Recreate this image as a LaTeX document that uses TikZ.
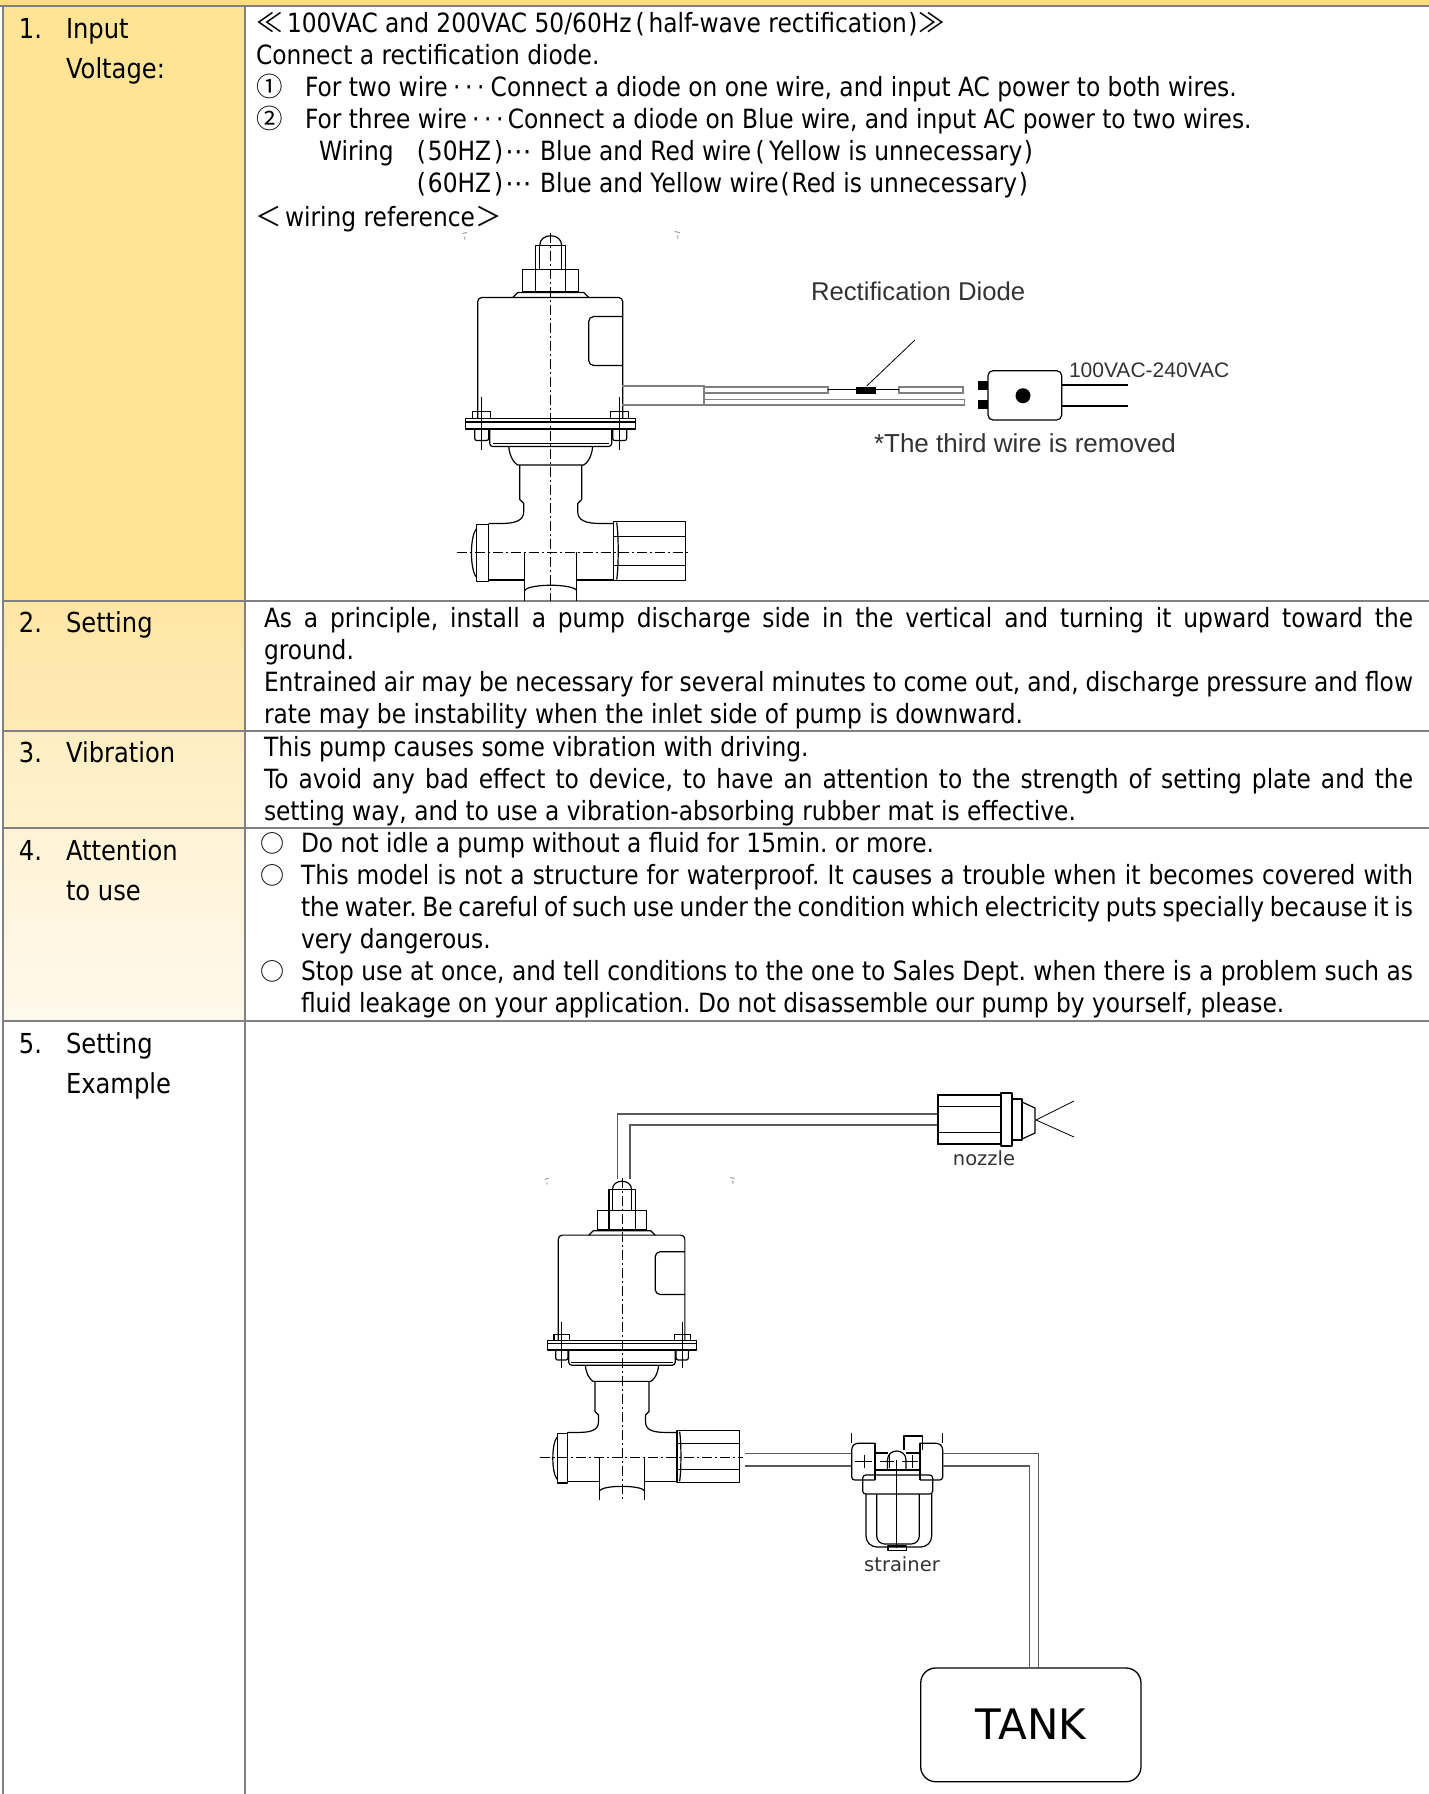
\documentclass[tikz,border=0pt]{standalone}
\usepackage{fontspec}
\setmainfont{DejaVu Sans}[FakeStretch=0.88]
\newfontfamily\dvs{DejaVu Sans}
\newfontfamily\lib{Liberation Sans}
\newfontfamily\cjk{Noto Sans CJK JP}
\definecolor{topband}{HTML}{FFDE80}
\definecolor{gridgray}{HTML}{808080}
\definecolor{rowA}{HTML}{FFE496}
\definecolor{rowBt}{HTML}{FFE6A6}
\definecolor{rowBb}{HTML}{FFEAB4}
\definecolor{rowCt}{HTML}{FFEEC2}
\definecolor{rowCb}{HTML}{FFF1CD}
\definecolor{rowDt}{HTML}{FFF3D6}
\definecolor{rowDb}{HTML}{FFF9EC}
\definecolor{pipegray}{HTML}{5A5A5A}
\definecolor{labelgray}{HTML}{333333}
\newcommand\mydots{\makebox[12pt]{·}\makebox[12pt]{·}\makebox[12pt]{·}}
\tikzset{
  txt/.style={anchor=base west, inner sep=0pt, outer sep=0pt, font=\fontsize{26.5}{32}\selectfont},
  lefttxt/.style={anchor=base west, inner sep=0pt, outer sep=0pt, font=\fontsize{27.5}{40}\selectfont},
  cjktxt/.style={anchor=base west, inner sep=0pt, outer sep=0pt, font=\cjk\fontsize{24}{30}\selectfont},
  libtxt/.style={anchor=base west, inner sep=0pt, outer sep=0pt, text=labelgray},
  gridline/.style={draw=gridgray, line width=2pt},
  pl/.style={line width=1.2pt, black, line join=round},
  thinl/.style={line width=0.8pt, black},
  cl/.style={line width=0.9pt, black, dash pattern=on 10pt off 3pt on 2pt off 3pt},
  pipe/.style={line width=1.3pt, pipegray},
  wire/.style={line width=1.1pt, gray},
  pics/pump/.style={code={
    \draw[cl] (0,-3) -- (0,365);
    \draw[cl] (-94,316.5) -- (139,316.5);
    % dome and knob
    \draw[pl] (-11,10) .. controls (-11,-3) and (11,-3) .. (11,10);
    \draw[pl] (-15,10) rectangle (15,34);
    \draw[pl] (-11,10) -- (-11,34) (11,10) -- (11,34);
    % nut
    \draw[pl] (-28,34) rectangle (28,56);
    \draw[pl] (-15,34) -- (-15,56) (15,34) -- (15,56);
    % washer
    \draw[pl] (-38,62) -- (-33,57) -- (33,57) -- (38,62);
    % coil
    \draw[pl, rounded corners=4] (-73,183) -- (-73,62) -- (72,62) -- (72,183);
    \draw[pl, rounded corners=5] (72,81) -- (38,81) -- (38,130) -- (72,130);
    % bolts
    \draw[thinl] (-69,161) -- (-69,214) (69,161) -- (69,214);
    \draw[pl] (-78,176) rectangle (-60,183);
    \draw[pl] (60,176) rectangle (78,183);
    % flange
    \draw[pl] (-85,183) rectangle (85,193.5);
    \draw[pl] (-85,186.5) -- (85,186.5);
    \draw[pl, rounded corners=2] (-76,193.5) -- (-76,205) -- (-62,205) -- (-62,193.5);
    \draw[pl, rounded corners=2] (62,193.5) -- (62,205) -- (76,205) -- (76,193.5);
    % lower body
    \draw[pl, rounded corners=3] (-61,193.5) -- (-61,211) -- (61,211) -- (61,193.5);
    \draw[pl] (-58,208) -- (58,208);
    % taper
    \draw[pl] (-42,211) .. controls (-41,222) and (-36,228) .. (-33,229.5) -- (33,229.5) .. controls (36,228) and (41,222) .. (42,211);
    % stem
    \draw[pl] (-31,229.5) -- (-31,264) -- (-27,268) -- (-27,276) .. controls (-27,285) and (-35,288) .. (-50,288) -- (-62,288);
    \draw[pl] (31,229.5) -- (31,264) -- (27,268) -- (27,276) .. controls (27,285) and (35,288) .. (50,288) -- (63,288);
    % horizontal body
    \draw[pl] (-62,288) -- (-62,345);
    \draw[pl] (-62,344.5) -- (-26,344.5) (26,344.5) -- (63,344.5);
    % left cap
    \draw[pl] (-74,289) rectangle (-62,346);
    \draw[pl] (-74,293) .. controls (-81,300) and (-81,335) .. (-74,342);
    % right nut
    \draw[pl] (63,286) rectangle (135,345);
    \draw[pl] (63,301) -- (135,301) (63,330) -- (135,330);
    \draw[pl] (66,287) .. controls (68,300) and (68,331) .. (66,344);
    % bottom port
    \draw[pl] (-26,316.5) -- (-26,365) (26,316.5) -- (26,365);
    \draw[pl] (-26,355) .. controls (-22,348) and (22,348) .. (26,355);
    % stray marks
    \draw[thinl, gray] (-88,-2) -- (-84,-3) (-86,1) -- (-86,4);
    \draw[thinl, gray] (124,-4) -- (129,-3) (127,0) -- (127,3);
  }}
}
\begin{document}
\frenchspacing
\begin{tikzpicture}[x=1pt,y=-1pt]
\useasboundingbox (0,0) rectangle (1429,1794);
\fill[white] (0,0) rectangle (1429,1794);
% ---------- table backgrounds ----------
\fill[topband] (0,0) rectangle (1429,5);
\fill[rowA] (3,6) rectangle (245,601);
\shade[top color=rowBt, bottom color=rowBb] (3,601) rectangle (245,731);
\shade[top color=rowCt, bottom color=rowCb] (3,731) rectangle (245,828);
\shade[top color=rowDt, bottom color=rowDb] (3,828) rectangle (245,1021);
% ---------- grid ----------
\draw[gridline] (0,5.8) -- (1429,5.8);
\draw[gridline] (3,5.8) -- (3,1794);
\draw[gridline] (245,5.8) -- (245,1794);
\draw[gridline] (3,601) -- (1429,601);
\draw[gridline] (3,731) -- (1429,731);
\draw[gridline] (3,828) -- (1429,828);
\draw[gridline] (3,1021) -- (1429,1021);
% ---------- left column ----------
\node[lefttxt] (n1) at (19,38) {1.};
\node[lefttxt] (h1a) at (66,38) {Input};
\node[lefttxt] (h1b) at (66,78) {Voltage:};
\node[lefttxt] (n2) at (19,632) {2.};
\node[lefttxt] (h2) at (66,632) {Setting};
\node[lefttxt] (n3) at (19,762) {3.};
\node[lefttxt] (h3) at (66,762) {Vibration};
\node[lefttxt] (n4) at (19,860) {4.};
\node[lefttxt] (h4a) at (66,860) {Attention};
\node[lefttxt] (h4b) at (66,900) {to use};
\node[lefttxt] (n5) at (19,1053) {5.};
\node[lefttxt] (h5a) at (66,1053) {Setting};
\node[lefttxt] (h5b) at (66,1093) {Example};
% ---------- row 1 text ----------
\node[txt] (l1) at (256,32.5) {\makebox[31pt][l]{\cjk ≪}100VAC and 200VAC 50/60Hz\makebox[17pt]{(}half-wave rectification\makebox[12pt]{)}\makebox[26.5pt][l]{\cjk ≫}};
\node[txt] (l2) at (256,64.5) {Connect a rectification diode.};
\node[txt] (l3) at (256,96.5) {\makebox[49pt][l]{\cjk ①}For two wire\hspace{3pt}\mydots\hspace{4pt}Connect a diode on one wire, and input AC power to both wires.};
\node[txt] (l4) at (256,128.5) {\makebox[49pt][l]{\cjk ②}For three wire\hspace{3pt}\mydots\hspace{2pt}Connect a diode on Blue wire, and input AC power to two wires.};
\node[txt] (l5a) at (319,160.5) {Wiring};
\node[txt] (l5b) at (398,160.5) {\makebox[30pt][r]{(\hspace{2pt}}50HZ\makebox[13pt][r]{)\hspace{1pt}}\makebox[36pt][l]{\hspace{1pt}\dvs ⋯}Blue and Red wire\makebox[18pt]{(}Yellow is unnecessary\makebox[12pt]{)}};
\node[txt] (l6) at (398,192.5) {\makebox[30pt][r]{(\hspace{2pt}}60HZ\makebox[13pt][r]{)\hspace{1pt}}\makebox[36pt][l]{\hspace{1pt}\dvs ⋯}Blue and Yellow wire\makebox[13pt]{(}Red is unnecessary\makebox[12pt]{)}};
\node[txt] (l7) at (255,226) {\makebox[30pt][l]{\cjk ＜}wiring reference\makebox[26.5pt][l]{\hspace{1pt}\cjk ＞}};
% ---------- row 1 drawing ----------
\pic (pumpA) at (550.7,235.5) {pump};
\coordinate (shA) at (622,386);
\coordinate (shB) at (622,405);
\draw[wire] (shA) -- (704,386) -- (704,405) -- (shB);
\draw[wire] (704,387) -- (828,387) -- (828,393) -- (704,393);
\draw[wire] (704,399.5) -- (964.6,399.5) -- (964.6,405) -- (704,405);
\draw[wire] (899,387) -- (963,387) -- (963,393) -- (899,393) -- cycle;
\node[draw=black, fill=black, minimum width=19pt, minimum height=6pt, inner sep=0pt] (diode) at (865.5,389.7) {};
\draw[thinl] (828,389.7) -- (diode.west) (diode.east) -- (899,389.7);
\coordinate (leadtop) at (915,340);
\draw[thinl] (866.7,386) -- (leadtop);
\node[draw=black, line width=1.2pt, rounded corners=5pt, minimum width=73.7pt, minimum height=49.3pt, inner sep=0pt] (plug) at (1024.85,395.35) {};
\fill[black] (978,381) rectangle (988,390);
\fill[black] (978,400) rectangle (988,409);
\fill[black] (1023,395.7) circle (7.5);
\draw[thinl, line width=1.1pt] (1061.7,385) -- (1128,385) (1061.7,406) -- (1128,406);
\node[libtxt, font=\lib\fontsize{25.7}{30}\selectfont] (lbdiode) at (811,300) {Rectification Diode};
\node[libtxt, font=\lib\fontsize{21}{25}\selectfont] (lbvac) at (1069,377) {100VAC-240VAC};
\node[libtxt, font=\lib\fontsize{26}{30}\selectfont] (lbthird) at (874,452) {*The third wire is removed};
% ---------- row 2 text ----------
\node[txt] (r2a) at (264,627) {\makebox[1149pt][s]{As a principle, install a pump discharge side in the vertical and turning it upward toward the}};
\node[txt] (r2b) at (264,659) {ground.};
\node[txt] (r2c) at (264,691) {\makebox[1149pt][s]{Entrained air may be necessary for several minutes to come out, and, discharge pressure and flow}};
\node[txt] (r2d) at (264,723) {rate may be instability when the inlet side of pump is downward.};
% ---------- row 3 text ----------
\node[txt] (r3a) at (264,756) {This pump causes some vibration with driving.};
\node[txt] (r3b) at (264,788) {\makebox[1149pt][s]{To avoid any bad effect to device, to have an attention to the strength of setting plate and the}};
\node[txt] (r3c) at (264,820) {setting way, and to use a vibration-absorbing rubber mat is effective.};
% ---------- row 4 text ----------
\node[cjktxt] (c1) at (260,852) {○};
\node[txt] (r4a) at (301,852) {Do not idle a pump without a fluid for 15min. or more.};
\node[cjktxt] (c2) at (260,884) {○};
\node[txt] (r4b) at (301,884) {\makebox[1112pt][s]{This model is not a structure for waterproof. It causes a trouble when it becomes covered with}};
\node[txt] (r4c) at (301,916) {\makebox[1112pt][s]{the water. Be careful of such use under the condition which electricity puts specially because it is}};
\node[txt] (r4d) at (301,948) {very dangerous.};
\node[cjktxt] (c3) at (260,980) {○};
\node[txt] (r4e) at (301,980) {\makebox[1112pt][s]{Stop use at once, and tell conditions to the one to Sales Dept. when there is a problem such as}};
\node[txt] (r4f) at (301,1012) {fluid leakage on your application. Do not disassemble our pump by yourself, please.};
% ---------- row 5 drawing ----------
\pic[scale=0.873] (pumpB) at (622,1181) {pump};
% nozzle
\node[draw=black, line width=1.2pt, minimum width=63pt, minimum height=49pt, inner sep=0pt] (nozzle) at (969.5,1119.5) {};
\draw[pl] (938,1106.7) -- (1001,1106.7) (938,1132.7) -- (1001,1132.7);
\draw[pl] (1001,1093) rectangle (1012,1146);
\draw[pl] (1012,1099) rectangle (1022,1140);
\draw[pl] (1022,1102) -- (1035,1108) -- (1035,1133) -- (1022,1139);
\coordinate (sprayA) at (1074,1101);
\coordinate (sprayB) at (1074,1137);
\draw[thinl] (sprayA) -- (1036,1120) -- (sprayB);
\node[anchor=base, inner sep=0pt, text=labelgray, font=\dvs\fontsize{19.5}{22}\selectfont] (lbnozzle) at (984,1165) {nozzle};
% discharge pipe
\draw[pipe] (617.4,1179) -- (617.4,1114) -- (nozzle.west |- 0,1114);
\draw[pipe] (630,1179) -- (630,1125) -- (nozzle.west |- 0,1125);
% suction pipe to strainer
\draw[pipe] (744.5,1453.5) -- (851.7,1453.5);
\draw[pipe] (744.5,1466) -- (851.7,1466);
% strainer
\draw[pl, rounded corners=3] (875,1443.3) -- (855,1443.3) -- (851.7,1447) -- (851.7,1480) -- (875,1480);
\draw[pl] (875,1443.3) -- (875,1480);
\draw[pl, rounded corners=3] (920,1443.3) -- (939,1443.3) -- (942.7,1447) -- (942.7,1480) -- (920,1480);
\draw[pl] (920,1443.3) -- (920,1480);
\draw[thinl] (851.7,1433) -- (851.7,1443) (942.7,1433) -- (942.7,1443);
\draw[pl] (904,1450) -- (904,1436) -- (922.7,1436) -- (922.7,1450);
\draw[pl] (875,1453) -- (888,1453) (875,1470) -- (920,1470) (906,1453) -- (920,1453);
\draw[pl] (887.5,1470) -- (887.5,1460) .. controls (887.5,1448) and (906,1448) .. (906,1460) -- (906,1470);
\draw[thinl] (855,1461.7) -- (872,1461.7) (880,1461.7) -- (894,1461.7) (902,1461.7) -- (918,1461.7);
\draw[thinl] (864,1455) -- (864,1468) (889,1455) -- (889,1468) (912,1455) -- (912,1468);
\draw[pl, rounded corners=3] (862.7,1475) rectangle (932.7,1494);
\draw[pl, rounded corners=11] (866,1494) -- (866,1547) -- (931.7,1547) -- (931.7,1494);
\draw[pl, rounded corners=8] (876.7,1494) -- (876.7,1544) -- (919.3,1544) -- (919.3,1494);
\draw[pl] (896.7,1460) -- (896.7,1548);
\draw[pl] (888,1546) rectangle (906.7,1550.5);
\node[anchor=base, inner sep=0pt, text=labelgray, font=\dvs\fontsize{19.5}{22}\selectfont] (lbstrainer) at (902,1571) {strainer};
% tank
\node[draw=black, line width=1.3pt, rounded corners=15pt, minimum width=220.3pt, minimum height=113.7pt, inner sep=0pt] (tank) at (1030.85,1724.85) {};
\node[anchor=base, inner sep=0pt, font=\dvs\fontsize{42}{48}\selectfont] (lbtank) at (1031,1739) {TANK};
% pipe strainer to tank
\draw[pipe] (942.7,1453.5) -- (1038.3,1453.5) -- (1038.3,1668);
\draw[pipe] (942.7,1466) -- (1029.3,1466) -- (1029.3,1668);
\end{tikzpicture}
\end{document}
